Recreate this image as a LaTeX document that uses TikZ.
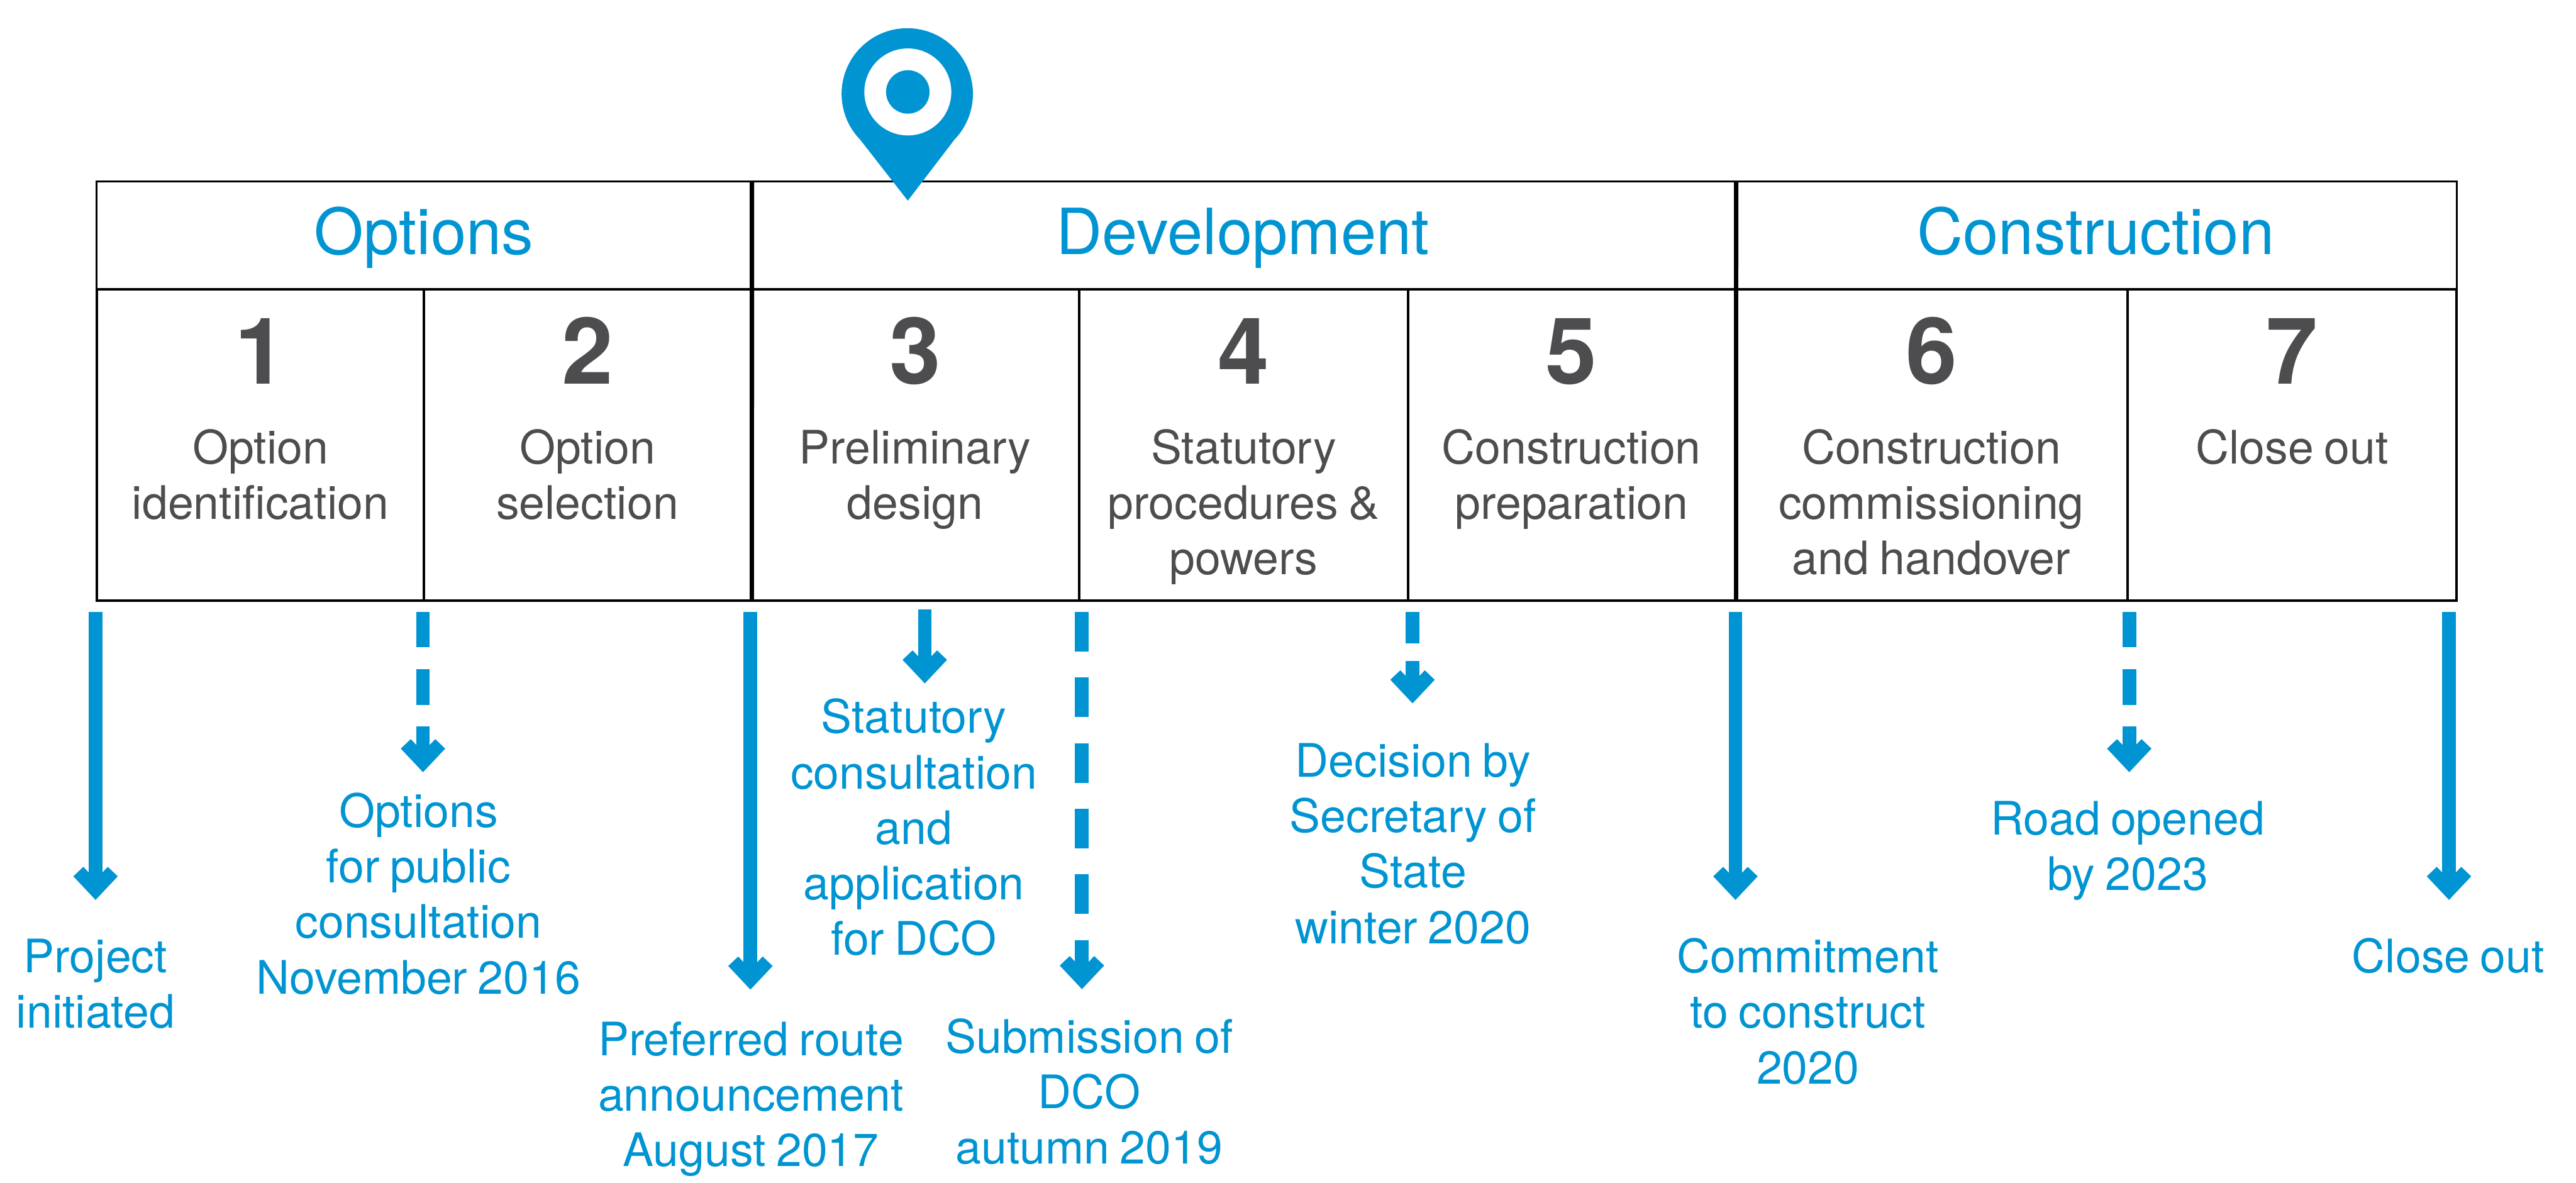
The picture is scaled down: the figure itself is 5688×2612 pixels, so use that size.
\documentclass[tikz,border=0pt]{standalone}
\usepackage{fontspec}
\setmainfont[WordSpace=0.8]{TeX Gyre Heros}
\definecolor{pinblue}{HTML}{0094D2}
\definecolor{labelgrey}{HTML}{4D4D4F}
\pgfdeclarearrow{
  name=PinHead,
  setup code={
    \pgfarrowssettipend{0pt}
    \pgfarrowssetlineend{-16.5pt}
    \pgfarrowssetbackend{-20.8pt}
    \pgfarrowssetvisualbackend{-16.5pt}
  },
  drawing code={
    \pgfsetdash{}{0pt}
    \pgfsetfillcolor{pinblue}
    \pgfpathmoveto{\pgfqpoint{0pt}{0pt}}
    \pgfpathlineto{\pgfqpoint{-14.8pt}{13.94pt}}
    \pgfpathlineto{\pgfqpoint{-20.77pt}{7.68pt}}
    \pgfpathlineto{\pgfqpoint{-17.2pt}{4.3pt}}
    \pgfpathlineto{\pgfqpoint{-17.2pt}{-4.3pt}}
    \pgfpathlineto{\pgfqpoint{-20.77pt}{-7.68pt}}
    \pgfpathlineto{\pgfqpoint{-14.8pt}{-13.94pt}}
    \pgfpathclose
    \pgfusepathqfill
  }
}
\tikzset{
  gridline/.style={line width=1.3pt,draw=black},
  headerbox/.style={gridline,rectangle,inner sep=0pt,text=pinblue,
    font=\fontsize{40}{48}\selectfont,text height=28.45pt,text depth=4.55pt,minimum height=238*0.28453pt},
  cellbox/.style={gridline,rectangle,inner sep=0pt,text=labelgrey,
    font=\fontsize{29}{34.8}\selectfont,text width=700*0.28453pt,align=flush center,
    text height=42.7pt,text depth=119.5pt,minimum height=687*0.28453pt},
  milestone/.style={inner sep=0pt,anchor=base,text=pinblue,text width=900*0.28453pt,align=flush center,
    font=\fontsize{29}{34.8}\selectfont},
  solidarrow/.style={draw=pinblue,line width=8.6pt,-{PinHead}},
  dashA/.style={solidarrow,dash pattern=on 22.3pt off 13.7pt},
  dashB/.style={solidarrow,dash pattern=on 24.9pt off 16.3pt},
  dashC/.style={solidarrow,dash pattern=on 19.9pt off 11.1pt}
}
\newcommand{\cellnum}[1]{{\fontsize{58}{58}\selectfont\bfseries #1}\\[15.5pt]}
\begin{document}
\begin{tikzpicture}[x=0.01cm,y=-0.01cm]
\useasboundingbox (0,0) rectangle (5688,2612);
% header row
\node[headerbox,minimum width=1444*0.28453pt] (hopt) at (936,520) {Options};
\node[headerbox,minimum width=2173*0.28453pt] (hdev) at (2744.5,520) {Development};
\node[headerbox,minimum width=1593*0.28453pt] (hcon) at (4627.5,520) {Construction};
% stage cells
\node[cellbox,minimum width=722*0.28453pt] (c1) at (575,982.5) {\cellnum{1}Option\\identification};
\node[cellbox,minimum width=722*0.28453pt] (c2) at (1297,982.5) {\cellnum{2}Option\\selection};
\node[cellbox,minimum width=725*0.28453pt] (c3) at (2020.5,982.5) {\cellnum{3}Preliminary\\design};
\node[cellbox,minimum width=726*0.28453pt] (c4) at (2746,982.5) {\cellnum{4}Statutory\\procedures \&\\powers};
\node[cellbox,minimum width=722*0.28453pt] (c5) at (3470,982.5) {\cellnum{5}Construction\\preparation};
\node[cellbox,minimum width=867*0.28453pt] (c6) at (4264.5,982.5) {\cellnum{6}Construction\\commissioning\\and handover};
\node[cellbox,minimum width=726*0.28453pt] (c7) at (5061,982.5) {\cellnum{7}Close out};
% heavier section dividers
\draw[line width=2.5pt] (hopt.north east) -- (c2.south east);
\draw[line width=2.5pt] (hdev.north east) -- (c5.south east);
% milestone labels
\node[milestone] (m1) at (211,2148) {Project\\initiated};
\node[milestone] (m2) at (924,1827) {Options\\for public\\consultation\\November 2016};
\node[milestone] (m3) at (1658,2331) {Preferred route\\announcement\\August 2017};
\node[milestone] (m4) at (2018,1619) {Statutory\\consultation\\and\\application\\for DCO};
\node[milestone] (m5) at (2405,2325) {Submission of\\DCO\\autumn 2019};
\node[milestone] (m6) at (3120,1716) {Decision by\\Secretary of\\State\\winter 2020};
\node[milestone] (m7) at (3992,2148) {Commitment\\to construct\\2020};
\node[milestone] (m8) at (4698,1843) {Road opened\\by 2023};
\node[milestone] (m9) at (5406,2148) {Close out};
% arrow ends
\coordinate (a1s) at (211,1351);  \coordinate (a1e) at (211,1987);
\coordinate (a2s) at (934,1351);  \coordinate (a2e) at (934,1705);
\coordinate (a3s) at (1657,1351); \coordinate (a3e) at (1657,2185);
\coordinate (a4s) at (2042,1346); \coordinate (a4e) at (2042,1509);
\coordinate (a5s) at (2389,1351); \coordinate (a5e) at (2389,2184);
\coordinate (a6s) at (3119,1351); \coordinate (a6e) at (3119,1553);
\coordinate (a7s) at (3832,1351); \coordinate (a7e) at (3832,1987);
\coordinate (a8s) at (4701.5,1351); \coordinate (a8e) at (4701.5,1705);
\coordinate (a9s) at (5407.5,1351); \coordinate (a9e) at (5407.5,1987);
\draw[solidarrow] (a1s) -- (a1e);
\draw[dashA] (a2s) -- (a2e);
\draw[solidarrow] (a3s) -- (a3e);
\draw[solidarrow] (a4s) -- (a4e);
\draw[dashB] (a5s) -- (a5e);
\draw[dashC] (a6s) -- (a6e);
\draw[solidarrow] (a7s) -- (a7e);
\draw[dashA] (a8s) -- (a8e);
\draw[solidarrow] (a9s) -- (a9e);
% location pin
\fill[pinblue] (2004.5,443) -- (1899,308)
  arc[start angle=136,end angle=404,radius=145] -- cycle;
\fill[white] (2004.5,203) circle[radius=96];
\fill[pinblue] (2004.5,203) circle[radius=48];
\end{tikzpicture}
\end{document}
